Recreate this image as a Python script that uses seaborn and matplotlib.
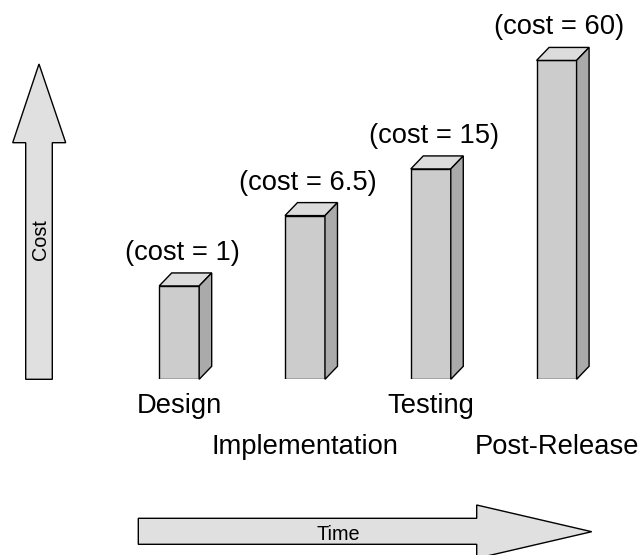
import numpy as np
import pandas as pd
import matplotlib
matplotlib.use("Agg")
import matplotlib.pyplot as plt
from matplotlib.patches import Polygon
import seaborn as sns

# Relative cost of fixing a defect, by project phase
phases = ["Design", "Implementation", "Testing", "Post-Release"]
costs = [1, 6.5, 15, 60]
name_row = [0, 1, 0, 1]          # phase names are staggered on two rows

sns.set_style("white")
plt.rcParams["font.family"] = ["Liberation Sans", "DejaVu Sans"]
plt.rcParams["text.color"] = "black"

W, H = 644, 555
fig = plt.figure(figsize=(W / 100, H / 100), dpi=100)
fig.patch.set_facecolor("white")

# Bar axes: baseline sits 379 px from the top of the figure
base_px = 379.3
ax = fig.add_axes([0, (H - base_px) / H, 1, base_px / H])
df = pd.DataFrame({"phase": phases, "cost": costs})
sns.barplot(data=df, x="phase", y="cost", ax=ax, color="#cccccc",
            saturation=1, edgecolor="black", linewidth=1.0,
            width=0.318, errorbar=None)

# Compressed (power) scale so the big costs still fit on the page
P = 0.3
ax.set_yscale("function",
              functions=(lambda y: np.sign(y) * np.abs(y) ** P,
                         lambda y: np.sign(y) * np.abs(y) ** (1 / P)))
ax.set_ylim(0, 107)
ax.set_xlim(-1.4245, 3.695)
ax.set_autoscale_on(False)
ax.set_axis_off()

# Overlay in pixel units (y down) for the box depth and the arrows
over = fig.add_axes([0, 0, 1, 1])
over.set_xlim(0, W)
over.set_ylim(H, 0)
over.set_axis_off()

DX, DY = 12.5, 13.0
EDGE = dict(edgecolor="black", linewidth=1.0, joinstyle="miter")
for p in ax.patches:
    x0, y0 = p.get_x(), p.get_y()
    x1, y1 = x0 + p.get_width(), y0 + p.get_height()
    (l, b), (r, t) = ax.transData.transform([(x0, y0), (x1, y1)])
    b, t = H - b, H - t
    over.add_patch(Polygon([(l, t), (r, t), (r + DX, t - DY), (l + DX, t - DY)],
                           closed=True, facecolor="#dcdcdc", **EDGE))
    over.add_patch(Polygon([(r, b), (r + DX, b - DY), (r + DX, t - DY), (r, t)],
                           closed=True, facecolor="#aaaaaa", **EDGE))

# Cost labels above each box and staggered phase names below
for i, (name, c) in enumerate(zip(phases, costs)):
    ax.annotate(f"(cost = {c:g})", xy=(i, c), xytext=(3, 26),
                textcoords="offset pixels", ha="center", va="baseline",
                fontsize=19.7, color="black", annotation_clip=False)
    ax.annotate(name, xy=(i, 0), xytext=(0, -33.7 - 41 * name_row[i]),
                textcoords="offset pixels", ha="center", va="baseline",
                fontsize=19.7, color="black", annotation_clip=False)

# Cost arrow (up) and time arrow (right)
ARROW = dict(closed=True, facecolor="#e0e0e0", edgecolor="black",
             linewidth=1.0, joinstyle="miter")
over.add_patch(Polygon([(25.7, 379.3), (52.3, 379.3), (52.3, 142.7),
                        (65.7, 142.7), (39.0, 64.0), (12.7, 142.7),
                        (25.7, 142.7)], **ARROW))
over.add_patch(Polygon([(138.3, 518.3), (476.7, 518.3), (476.7, 505.0),
                        (591.7, 531.7), (476.7, 558.4), (476.7, 544.3),
                        (138.3, 544.3)], **ARROW))
over.text(40.5, 240, "Cost", rotation=90, ha="center", va="center",
          fontsize=14.3, color="black")
over.text(338, 540, "Time", ha="center", va="baseline", fontsize=14.3,
          color="black")

fig.savefig("out.png", dpi=100)
